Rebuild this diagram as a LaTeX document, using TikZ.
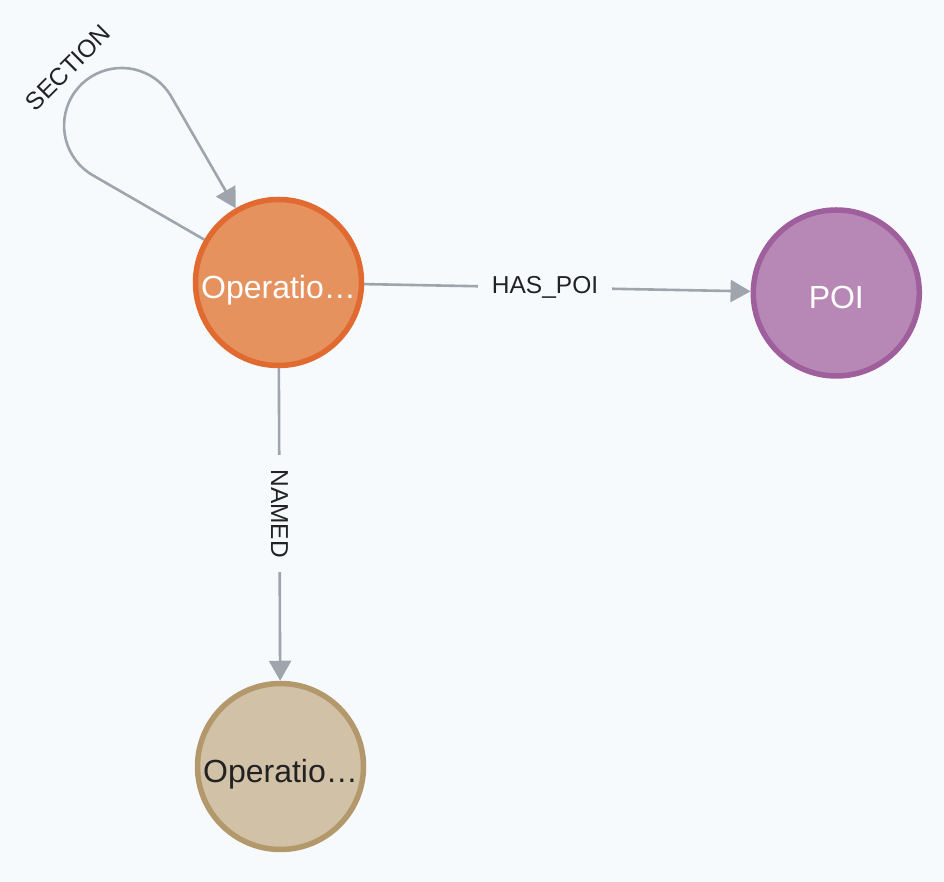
\documentclass[tikz,border=0pt]{standalone}
\usepackage{fontspec}
\setmainfont{Liberation Sans}
\usetikzlibrary{arrows.meta,calc}
\definecolor{bg}{HTML}{F7FAFD}
\definecolor{orfill}{HTML}{E6925F}
\definecolor{ordraw}{HTML}{E06A2F}
\definecolor{pfill}{HTML}{B788B5}
\definecolor{pdraw}{HTML}{9E5F9C}
\definecolor{bfill}{HTML}{D1C1A6}
\definecolor{bdraw}{HTML}{B3986B}
\definecolor{edgec}{HTML}{A0A4AD}
\definecolor{txt}{HTML}{222222}
\begin{document}
\begin{tikzpicture}[x=1pt,y=1pt,
  nd/.style={circle, minimum size=166pt, inner sep=0pt, line width=5.5pt,
    font=\fontsize{32}{36}\selectfont, text height=32pt, text depth=0pt},
  edge/.style={draw=edgec, line width=2.6pt, -{Triangle[length=20pt,width=22pt]}},
  elabel/.style={fill=bg, text=txt, font=\fontsize{24.5}{28}\selectfont,
    inner xsep=14pt, inner ysep=2pt}
]
\fill[bg] (0,0) rectangle (944,882);
\useasboundingbox (0,0) rectangle (944,882);

\node[nd, fill=orfill, draw=ordraw, text=white] (A) at (278.5,599.5) {Operatio…};
\node[nd, fill=pfill, draw=pdraw, text=white] (P) at (836.3,589) {POI};
\node[nd, fill=bfill, draw=bdraw, text=txt] (B) at (280.5,115.5) {Operatio…};

\draw[edge] (A) -- node[elabel, pos=0.468] (hp) {HAS\_POI} (P);
\draw[edge] (A) -- node[elabel, pos=0.465, rotate=-90] (nm) {NAMED} (B);

\coordinate (T1) at ($(A.center)+(150:214.4)$);
\draw[edge] (A.150) -- (T1) arc[start angle=240, end angle=30, radius=57.5] -- (A.120);
\node[text=txt, font=\fontsize{24.5}{28}\selectfont, rotate=45, inner sep=0pt] (sec) at (68,814) {SECTION};
\end{tikzpicture}
\end{document}
